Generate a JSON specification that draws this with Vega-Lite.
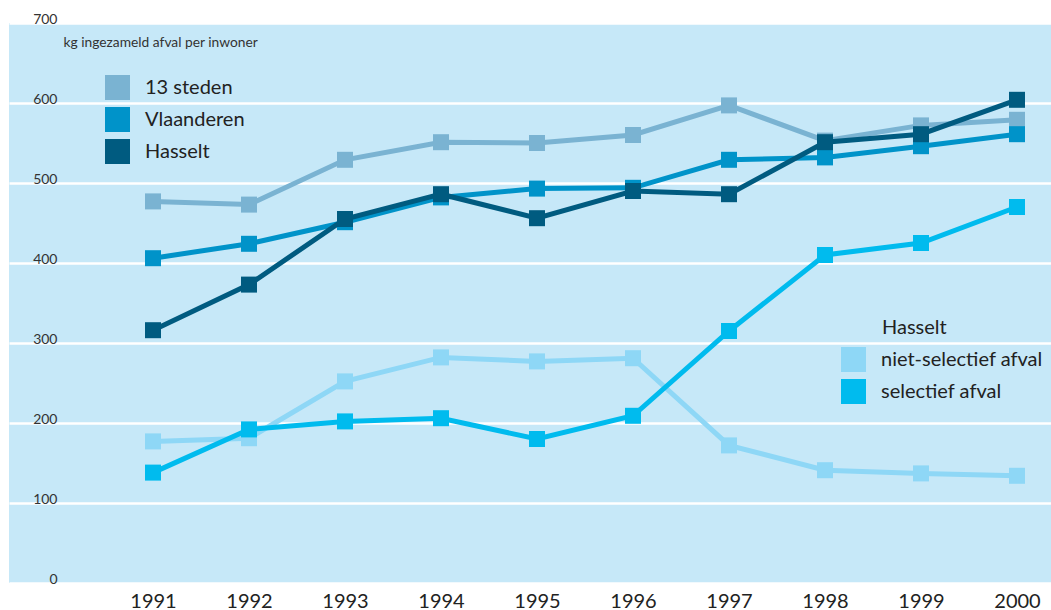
{
  "$schema": "https://vega.github.io/schema/vega-lite/v6.json",
  "width": 1042,
  "height": 560,
  "autosize": {"type": "none"},
  "padding": {"left": 9, "top": 23, "right": 0, "bottom": 27},
  "background": "white",
  "config": {"font": "Lato", "view": {"fill": "#c6e8f8", "stroke": null}},
  "datasets": {
    "totaal": [
      {"jaar": 1991, "reeks": "13 steden", "kg": 477},
      {"jaar": 1992, "reeks": "13 steden", "kg": 473},
      {"jaar": 1993, "reeks": "13 steden", "kg": 529},
      {"jaar": 1994, "reeks": "13 steden", "kg": 551},
      {"jaar": 1995, "reeks": "13 steden", "kg": 550},
      {"jaar": 1996, "reeks": "13 steden", "kg": 560},
      {"jaar": 1997, "reeks": "13 steden", "kg": 597},
      {"jaar": 1998, "reeks": "13 steden", "kg": 553},
      {"jaar": 1999, "reeks": "13 steden", "kg": 572},
      {"jaar": 2000, "reeks": "13 steden", "kg": 579},
      {"jaar": 1991, "reeks": "Vlaanderen", "kg": 406},
      {"jaar": 1992, "reeks": "Vlaanderen", "kg": 424},
      {"jaar": 1993, "reeks": "Vlaanderen", "kg": 451},
      {"jaar": 1994, "reeks": "Vlaanderen", "kg": 482},
      {"jaar": 1995, "reeks": "Vlaanderen", "kg": 493},
      {"jaar": 1996, "reeks": "Vlaanderen", "kg": 494},
      {"jaar": 1997, "reeks": "Vlaanderen", "kg": 529},
      {"jaar": 1998, "reeks": "Vlaanderen", "kg": 532},
      {"jaar": 1999, "reeks": "Vlaanderen", "kg": 546},
      {"jaar": 2000, "reeks": "Vlaanderen", "kg": 561},
      {"jaar": 1991, "reeks": "Hasselt", "kg": 316},
      {"jaar": 1992, "reeks": "Hasselt", "kg": 373},
      {"jaar": 1993, "reeks": "Hasselt", "kg": 455},
      {"jaar": 1994, "reeks": "Hasselt", "kg": 486},
      {"jaar": 1995, "reeks": "Hasselt", "kg": 456},
      {"jaar": 1996, "reeks": "Hasselt", "kg": 490},
      {"jaar": 1997, "reeks": "Hasselt", "kg": 486},
      {"jaar": 1998, "reeks": "Hasselt", "kg": 551},
      {"jaar": 1999, "reeks": "Hasselt", "kg": 561},
      {"jaar": 2000, "reeks": "Hasselt", "kg": 604}
    ],
    "hasselt": [
      {"jaar": 1991, "soort": "niet-selectief afval", "kg": 177},
      {"jaar": 1992, "soort": "niet-selectief afval", "kg": 181},
      {"jaar": 1993, "soort": "niet-selectief afval", "kg": 252},
      {"jaar": 1994, "soort": "niet-selectief afval", "kg": 282},
      {"jaar": 1995, "soort": "niet-selectief afval", "kg": 277},
      {"jaar": 1996, "soort": "niet-selectief afval", "kg": 281},
      {"jaar": 1997, "soort": "niet-selectief afval", "kg": 172},
      {"jaar": 1998, "soort": "niet-selectief afval", "kg": 141},
      {"jaar": 1999, "soort": "niet-selectief afval", "kg": 137},
      {"jaar": 2000, "soort": "niet-selectief afval", "kg": 134},
      {"jaar": 1991, "soort": "selectief afval", "kg": 138},
      {"jaar": 1992, "soort": "selectief afval", "kg": 192},
      {"jaar": 1993, "soort": "selectief afval", "kg": 202},
      {"jaar": 1994, "soort": "selectief afval", "kg": 206},
      {"jaar": 1995, "soort": "selectief afval", "kg": 180},
      {"jaar": 1996, "soort": "selectief afval", "kg": 209},
      {"jaar": 1997, "soort": "selectief afval", "kg": 315},
      {"jaar": 1998, "soort": "selectief afval", "kg": 410},
      {"jaar": 1999, "soort": "selectief afval", "kg": 425},
      {"jaar": 2000, "soort": "selectief afval", "kg": 470}
    ]
  },
  "encoding": {
    "x": {
      "field": "jaar",
      "type": "quantitative",
      "scale": {"domain": [1989.5, 2000.354], "nice": false, "zero": false},
      "axis": {
        "values": [1991, 1992, 1993, 1994, 1995, 1996, 1997, 1998, 1999, 2000],
        "format": "d",
        "grid": false,
        "domain": false,
        "ticks": false,
        "labelFlush": false,
        "labelOverlap": false,
        "labelFontSize": 20,
        "labelColor": "#222222",
        "labelPadding": 8,
        "title": null
      }
    },
    "y": {
      "field": "kg",
      "type": "quantitative",
      "scale": {"domain": [0, 700], "nice": false},
      "axis": {
        "values": [0, 100, 200, 300, 400, 500, 600, 700],
        "grid": true,
        "gridColor": "white",
        "gridWidth": 2.5,
        "gridOpacity": 1,
        "domain": false,
        "ticks": false,
        "labelFlush": false,
        "labelOverlap": false,
        "labelAlign": "right",
        "labelBaseline": "alphabetic",
        "labelPadding": -48,
        "labelFontSize": 14,
        "labelColor": "#333333",
        "title": "kg ingezameld afval per inwoner",
        "titleAngle": 0,
        "titleAlign": "left",
        "titleBaseline": "alphabetic",
        "titleX": 54,
        "titleY": 23,
        "titleFontSize": 13.8,
        "titleFontWeight": "normal",
        "titleColor": "#333333"
      }
    }
  },
  "layer": [
    {
      "data": {"name": "totaal"},
      "layer": [
        {
          "mark": {"type": "line", "strokeWidth": 5},
          "encoding": {
            "stroke": {
              "field": "reeks",
              "type": "nominal",
              "scale": {"domain": ["13 steden", "Vlaanderen", "Hasselt"], "range": ["#7ab3d2", "#0093c9", "#005b80"]},
              "legend": {
                "title": null,
                "orient": "none",
                "legendX": 96,
                "legendY": 52,
                "symbolType": "square",
                "symbolSize": 625,
                "symbolStrokeWidth": 0,
                "symbolOpacity": 1,
                "labelFontSize": 20,
                "labelColor": "#222222",
                "labelOffset": 15,
                "labelLimit": 300,
                "rowPadding": 7
              }
            }
          }
        },
        {
          "mark": {"type": "point", "filled": true, "shape": "square", "size": 256, "opacity": 1},
          "encoding": {
            "fill": {
              "field": "reeks",
              "type": "nominal",
              "scale": {"domain": ["13 steden", "Vlaanderen", "Hasselt"], "range": ["#7ab3d2", "#0093c9", "#005b80"]},
              "legend": {
                "title": null,
                "orient": "none",
                "legendX": 96,
                "legendY": 52,
                "symbolType": "square",
                "symbolSize": 625,
                "symbolStrokeWidth": 0,
                "symbolOpacity": 1,
                "labelFontSize": 20,
                "labelColor": "#222222",
                "labelOffset": 15,
                "labelLimit": 300,
                "rowPadding": 7
              }
            }
          }
        }
      ]
    },
    {
      "data": {"name": "hasselt"},
      "layer": [
        {
          "mark": {"type": "line", "strokeWidth": 5},
          "encoding": {
            "stroke": {
              "field": "soort",
              "type": "nominal",
              "scale": {"domain": ["niet-selectief afval", "selectief afval"], "range": ["#8ed7f6", "#00bbee"]},
              "legend": {
                "title": "Hasselt",
                "orient": "none",
                "legendX": 832,
                "legendY": 295,
                "titleFontSize": 20,
                "titleFontWeight": "normal",
                "titleColor": "#222222",
                "titlePadding": 9,
                "symbolType": "square",
                "symbolSize": 625,
                "symbolStrokeWidth": 0,
                "symbolOpacity": 1,
                "labelFontSize": 20,
                "labelColor": "#222222",
                "labelOffset": 15,
                "labelLimit": 300,
                "rowPadding": 7,
                "encode": {"title": {"update": {"dx": {"value": 41}}}}
              }
            }
          }
        },
        {
          "mark": {"type": "point", "filled": true, "shape": "square", "size": 256, "opacity": 1},
          "encoding": {
            "fill": {
              "field": "soort",
              "type": "nominal",
              "scale": {"domain": ["niet-selectief afval", "selectief afval"], "range": ["#8ed7f6", "#00bbee"]},
              "legend": {
                "title": "Hasselt",
                "orient": "none",
                "legendX": 832,
                "legendY": 295,
                "titleFontSize": 20,
                "titleFontWeight": "normal",
                "titleColor": "#222222",
                "titlePadding": 9,
                "symbolType": "square",
                "symbolSize": 625,
                "symbolStrokeWidth": 0,
                "symbolOpacity": 1,
                "labelFontSize": 20,
                "labelColor": "#222222",
                "labelOffset": 15,
                "labelLimit": 300,
                "rowPadding": 7,
                "encode": {"title": {"update": {"dx": {"value": 41}}}}
              }
            }
          }
        }
      ]
    }
  ],
  "resolve": {"scale": {"fill": "independent", "stroke": "independent"}}
}
